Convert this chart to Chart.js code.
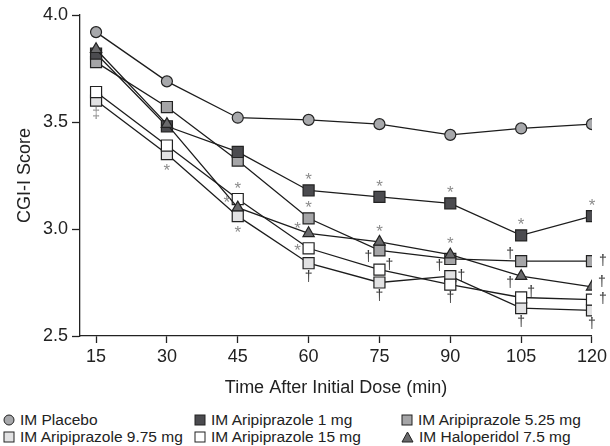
<!DOCTYPE html>
<html>
<head>
<meta charset="utf-8">
<script src="https://cdn.jsdelivr.net/npm/chart.js@4.4.1/dist/chart.umd.min.js"></script>
<style>
  html, body { margin: 0; padding: 0; background: #fff; }
  body { width: 610px; height: 446px; overflow: hidden; font-family: "Liberation Sans", Arial, sans-serif; color: #222; }
  #wrap { position: relative; width: 610px; height: 400px; }
  #chart-cgi { display: block; }
  .legend { position: absolute; left: 0; top: 411px; width: 610px; font-size: 15.5px; }
  .legend .item { position: absolute; white-space: nowrap; line-height: 17px; }
  .legend svg { vertical-align: -1px; margin-right: 5px; }
</style>
</head>
<body>
<div id="wrap"><canvas id="chart-cgi" width="610" height="400"></canvas></div>
<div class="legend" id="legend"></div>
<script>
const times = [15, 30, 45, 60, 75, 90, 105, 120];
const xTicks = [15, 30, 45, 60, 75, 90, 105, 120];
const yTicks = [2.5, 3.0, 3.5, 4.0];

const placebo = [3.92, 3.69, 3.52, 3.51, 3.49, 3.44, 3.47, 3.49];
const ari1    = [3.82, 3.48, 3.36, 3.18, 3.15, 3.12, 2.97, 3.06];
const ari525  = [3.78, 3.57, 3.32, 3.05, 2.90, 2.86, 2.85, 2.85];
const ari975  = [3.60, 3.35, 3.06, 2.84, 2.75, 2.78, 2.63, 2.62];
const ari15   = [3.64, 3.39, 3.14, 2.91, 2.81, 2.74, 2.68, 2.67];
const halo    = [3.84, 3.49, 3.10, 2.98, 2.94, 2.88, 2.78, 2.73];

// [série, index du temps, symbole, placement]
const marks = [
  ['ari975', 0, '‡', 'below'],
  ['ari975', 1, '*', 'below'],
  ['ari15', 2, '*', 'above'], ['halo', 2, '*', 'upperLeft'], ['ari975', 2, '*', 'below'],
  ['ari1', 3, '*', 'above'], ['ari525', 3, '*', 'above'], ['halo', 3, '*', 'upperLeft'], ['ari15', 3, '*', 'left'], ['ari975', 3, '†', 'below'],
  ['ari1', 4, '*', 'above'], ['halo', 4, '*', 'above'], ['ari525', 4, '†', 'lowerLeft'], ['ari15', 4, '†', 'upperRight'], ['ari975', 4, '†', 'below'],
  ['ari1', 5, '*', 'above'], ['halo', 5, '*', 'above'], ['ari525', 5, '†', 'lowerLeft'], ['ari975', 5, '†', 'right'], ['ari15', 5, '†', 'below'],
  ['ari1', 6, '*', 'above'], ['ari525', 6, '†', 'upperLeft'], ['halo', 6, '†', 'lowerLeft'], ['ari15', 6, '†', 'upperRight'], ['ari975', 6, '†', 'below'],
  ['ari1', 7, '*', 'above'], ['ari525', 7, '†', 'right'], ['halo', 7, '†', 'upperRight'], ['ari15', 7, '†', 'right'], ['ari975', 7, '†', 'below']
];

const FONT = '"Liberation Sans", Arial, sans-serif';
const INK = '#222';

const series = [
  { id: 'placebo', label: 'IM Placebo', data: placebo, fill: '#a7a8ab', style: 'circle', r: 5.5 },
  { id: 'halo', label: 'IM Haloperidol 7.5 mg', data: halo, fill: '#6a6a6c', style: 'triangle', r: 6.5 },
  { id: 'ari1', label: 'IM Aripiprazole 1 mg', data: ari1, fill: '#4b4b4f', style: 'rect', r: 7.8 },
  { id: 'ari525', label: 'IM Aripiprazole 5.25 mg', data: ari525, fill: '#a5a5a7', style: 'rect', r: 7.8 },
  { id: 'ari15', label: 'IM Aripiprazole 15 mg', data: ari15, fill: '#ffffff', style: 'rect', r: 7.8 },
  { id: 'ari975', label: 'IM Aripiprazole 9.75 mg', data: ari975, fill: '#e2e2e3', style: 'rect', r: 7.8 }
];

const offsets = {
  above: [0, -13], below: [0, 14], left: [-11, 0], right: [11, 0],
  upperLeft: [-11, -7], lowerLeft: [-11, 7], upperRight: [10, -5]
};

const markPlugin = {
  id: 'marks',
  afterDatasetsDraw(chart) {
    const ctx = chart.ctx;
    ctx.save();
    ctx.textAlign = 'center';
    ctx.textBaseline = 'middle';
    marks.forEach(([sid, i, sym, place]) => {
      const di = series.findIndex(s => s.id === sid);
      const pt = chart.getDatasetMeta(di).data[i];
      const [dx, dy] = offsets[place];
      if (sym === '*') {
        ctx.font = '17px ' + FONT;
        ctx.fillStyle = '#8c8c8c';
        ctx.fillText(sym, pt.x + dx, pt.y + dy + 3);
      } else {
        ctx.font = '14px ' + FONT;
        ctx.fillStyle = sym === '‡' ? '#8c8c8c' : '#333';
        ctx.fillText(sym, pt.x + dx, pt.y + dy);
      }
    });
    ctx.restore();
  }
};

new Chart(document.getElementById('chart-cgi'), {
  type: 'line',
  data: {
    datasets: series.map(s => ({
      label: s.label,
      data: s.data.map((v, i) => ({ x: times[i], y: v })),
      borderColor: '#1c1c1c',
      borderWidth: 1.3,
      pointStyle: s.style,
      pointRadius: s.r,
      pointHoverRadius: s.r,
      pointBackgroundColor: s.fill,
      pointBorderColor: INK,
      pointBorderWidth: 1.2,
      tension: 0
    }))
  },
  options: {
    responsive: false,
    devicePixelRatio: 1,
    animation: false,
    layout: { padding: { top: 15, right: 16, bottom: 0, left: 14 } },
    plugins: { legend: { display: false }, tooltip: { enabled: false } },
    scales: {
      x: {
        type: 'linear',
        min: 11.6,
        max: 120,
        afterBuildTicks: sc => { sc.ticks = xTicks.map(v => ({ value: v })); },
        afterFit: sc => { sc.height = 64; },
        grid: { drawOnChartArea: false, drawTicks: true, tickLength: 7, tickWidth: 1.3, tickColor: INK },
        border: { display: true, color: INK, width: 1.3 },
        ticks: { color: INK, font: { family: FONT, size: 18 }, padding: 3, maxRotation: 0 },
        title: { display: true, text: 'Time After Initial Dose (min)', color: INK, font: { family: FONT, size: 18 }, padding: { top: 0, bottom: 1 } }
      },
      y: {
        min: 2.5,
        max: 4.0,
        afterBuildTicks: sc => { sc.ticks = yTicks.map(v => ({ value: v })); },
        afterFit: sc => { sc.width = 66; },
        grid: { drawOnChartArea: false, drawTicks: true, tickLength: 8, tickWidth: 1.3, tickColor: INK },
        border: { display: true, color: INK, width: 1.3 },
        ticks: { color: INK, font: { family: FONT, size: 18 }, padding: 4, callback: v => v.toFixed(1) },
        title: { display: true, text: 'CGI-I Score', color: INK, font: { family: FONT, size: 18 }, padding: { top: 0, bottom: 0 } }
      }
    }
  },
  plugins: [markPlugin]
});

// Légende sur 3 colonnes, comme la figure
function icon(s) {
  const sw = 'stroke="#222" stroke-width="1"';
  if (s.style === 'circle') return `<svg width="12" height="12"><circle cx="6" cy="6" r="5" fill="${s.fill}" ${sw}/></svg>`;
  if (s.style === 'triangle') return `<svg width="13" height="12"><polygon points="6.5,1 12,11 1,11" fill="${s.fill}" ${sw}/></svg>`;
  return `<svg width="12" height="12"><rect x="1" y="1" width="10" height="10" fill="${s.fill}" ${sw}/></svg>`;
}
const legendOrder = ['placebo', 'ari1', 'ari525', 'ari975', 'ari15', 'halo'];
const colX = [3, 194, 401];
const legend = document.getElementById('legend');
legendOrder.forEach((id, k) => {
  const s = series.find(d => d.id === id);
  const el = document.createElement('div');
  el.className = 'item';
  el.style.left = colX[k % 3] + 'px';
  el.style.top = (Math.floor(k / 3) * 17) + 'px';
  el.innerHTML = icon(s) + s.label;
  legend.appendChild(el);
});
</script>
</body>
</html>
